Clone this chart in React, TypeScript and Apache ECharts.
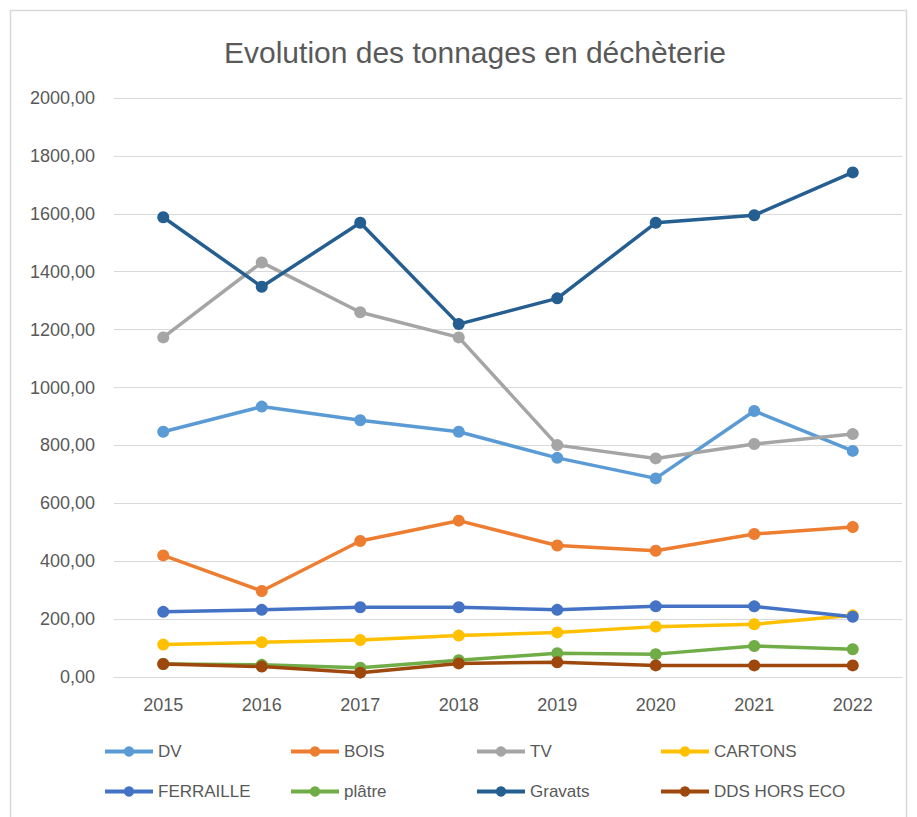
import React, { useEffect, useRef } from "react";
import * as echarts from "echarts";

const years = ["2015", "2016", "2017", "2018", "2019", "2020", "2021", "2022"];
const dv = [847, 934, 887, 847, 757, 686, 919, 781];
const bois = [420, 297, 470, 540, 454, 436, 494, 518];
const tv = [1173, 1432, 1260, 1173, 801, 755, 805, 839];
const cartons = [112, 120, 128, 143, 154, 174, 182, 213];
const ferraille = [225, 232, 241, 241, 232, 244, 244, 208];
const platre = [45, 42, 32, 58, 82, 79, 107, 96];
const gravats = [1588, 1348, 1569, 1219, 1308, 1569, 1595, 1743];
const dds = [45, 36, 15, 47, 51, 40, 40, 40];

const seriesDefs = [
  { name: "DV", data: dv, color: "#5B9BD5" },
  { name: "BOIS", data: bois, color: "#ED7D31" },
  { name: "TV", data: tv, color: "#A5A5A5" },
  { name: "CARTONS", data: cartons, color: "#FFC000" },
  { name: "FERRAILLE", data: ferraille, color: "#4472C4" },
  { name: "plâtre", data: platre, color: "#70AD47" },
  { name: "Gravats", data: gravats, color: "#255E91" },
  { name: "DDS HORS ECO", data: dds, color: "#9E480E" },
];

const legendCols = [103, 289, 475, 659];
const legendRows = [743, 783];

export default function App() {
  const ref = useRef<HTMLDivElement>(null);
  useEffect(() => {
    if (!ref.current) return;
    const chart = echarts.init(ref.current, null, { renderer: "svg" });
    const font = "'Liberation Sans', Arial, sans-serif";
    chart.setOption({
      animation: false,
      backgroundColor: "#ffffff",
      textStyle: { fontFamily: font },
      title: {
        text: "Evolution des tonnages en déchèterie",
        left: 219,
        top: 32,
        textStyle: { fontFamily: font, fontSize: 30, fontWeight: "normal", color: "#595959" },
      },
      graphic: [
        {
          type: "rect",
          shape: { x: 10.5, y: 10.5, width: 896, height: 830 },
          style: { fill: "none", stroke: "#d9d9d9", lineWidth: 1.5 },
          silent: true,
        },
      ],
      legend: seriesDefs.map((s, i) => ({
        data: [s.name],
        left: legendCols[i % 4],
        top: legendRows[Math.floor(i / 4)],
        padding: 0,
        itemWidth: 48,
        itemHeight: 13,
        lineStyle: { width: 4 },
        textStyle: { fontFamily: font, fontSize: 17, color: "#595959" },
      })),
      grid: { left: 114, right: 15, top: 98, bottom: 140, containLabel: false },
      xAxis: {
        type: "category",
        data: years,
        boundaryGap: true,
        axisLine: { show: true, lineStyle: { color: "#d9d9d9", width: 1 } },
        axisTick: { show: false },
        axisLabel: { fontFamily: font, fontSize: 18, color: "#595959", margin: 19 },
      },
      yAxis: {
        type: "value",
        min: 0,
        max: 2000,
        interval: 200,
        axisLine: { show: false },
        axisTick: { show: false },
        splitLine: { lineStyle: { color: "#d9d9d9", width: 1 } },
        axisLabel: {
          fontFamily: font,
          fontSize: 18,
          color: "#595959",
          margin: 19,
          formatter: (v: number) => v.toFixed(2).replace(".", ","),
        },
      },
      series: seriesDefs.map((s) => ({
        name: s.name,
        type: "line",
        data: s.data,
        symbol: "circle",
        symbolSize: 12,
        color: s.color,
        lineStyle: { width: 3.5, color: s.color },
        itemStyle: { color: s.color },
      })),
    });
    return () => chart.dispose();
  }, []);
  return (
    <div
      ref={ref}
      style={{ position: "fixed", left: 0, top: 0, width: 917, height: 817 }}
    />
  );
}
